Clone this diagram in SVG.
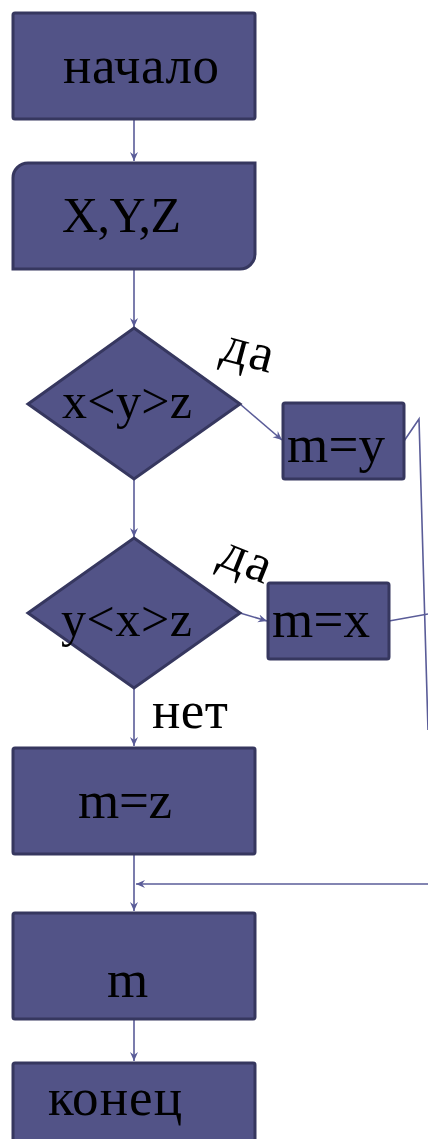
<svg xmlns="http://www.w3.org/2000/svg" width="428" height="1139" viewBox="0 0 428 1139">
<style>
.n{fill:#525387;stroke:#36375f;stroke-width:3}
text{font-family:"Liberation Serif","Times New Roman","DejaVu Serif",serif;fill:#000}
.t{font-size:53px}
.s{font-size:50px}
.c{fill:none;stroke:#5a5c98;stroke-width:1.6}
</style>
<defs>
<marker id="a" markerWidth="10" markerHeight="10" refX="9" refY="5" orient="auto" markerUnits="userSpaceOnUse">
<path d="M0,1 L9,5 L0,9 L3,5 Z" fill="#5a5c98"/>
</marker>
</defs>
<g id="connectors">
<line class="c" x1="134" y1="120" x2="134" y2="161" marker-end="url(#a)"/>
<line class="c" x1="134" y1="270" x2="134" y2="327" marker-end="url(#a)"/>
<line class="c" x1="240" y1="404" x2="282" y2="440" marker-end="url(#a)"/>
<polyline class="c" points="404,441 419,419 428,730"/>
<line class="c" x1="134" y1="480" x2="134" y2="537" marker-end="url(#a)"/>
<line class="c" x1="240" y1="613" x2="267" y2="621" marker-end="url(#a)"/>
<line class="c" x1="389" y1="621" x2="428" y2="614"/>
<line class="c" x1="134" y1="689" x2="134" y2="746" marker-end="url(#a)"/>
<line class="c" x1="134" y1="855" x2="134" y2="911" marker-end="url(#a)"/>
<line class="c" x1="428" y1="884" x2="136" y2="884" marker-end="url(#a)"/>
<line class="c" x1="134" y1="1020" x2="134" y2="1061" marker-end="url(#a)"/>
</g>
<g id="start">
<rect class="n" x="13" y="13" width="242" height="106" rx="2"/>
<text class="t" x="63" y="83" textLength="156">начало</text>
</g>
<g id="input">
<path class="n" d="M28,163 H255 V254 A15,15 0 0 1 240,269 H13 V178 A15,15 0 0 1 28,163 Z"/>
<text class="s" x="62" y="232" textLength="119">X,Y,Z</text>
</g>
<g id="cond1">
<polygon class="n" points="134,328 240,404 134,479 28,404"/>
<text class="s" x="62" y="418" textLength="130">x&lt;y&gt;z</text>
</g>
<g id="my">
<rect class="n" x="283" y="403" width="121" height="76" rx="2"/>
<text class="t" x="287" y="462" textLength="98">m=y</text>
</g>
<text class="t" x="221" y="366" textLength="52" transform="rotate(15 245 355)">да</text>
<g id="cond2">
<polygon class="n" points="134,538 240,613 134,688 28,613"/>
<text class="s" x="61" y="636" textLength="131">y&lt;x&gt;z</text>
</g>
<g id="mx">
<rect class="n" x="268" y="583" width="121" height="76" rx="2"/>
<text class="t" x="272" y="637" textLength="98">m=x</text>
</g>
<text class="t" x="218" y="575" textLength="52" transform="rotate(22 244 565)">да</text>
<text class="t" x="152" y="728" textLength="76">нет</text>
<g id="mz">
<rect class="n" x="13" y="748" width="242" height="106" rx="2"/>
<text class="t" x="78" y="818" textLength="94">m=z</text>
</g>
<g id="out">
<rect class="n" x="13" y="913" width="242" height="106" rx="2"/>
<text class="t" x="107" y="997">m</text>
</g>
<g id="end">
<rect class="n" x="13" y="1063" width="242" height="80" rx="2"/>
<text class="t" x="48" y="1115" textLength="134">конец</text>
</g>
</svg>
